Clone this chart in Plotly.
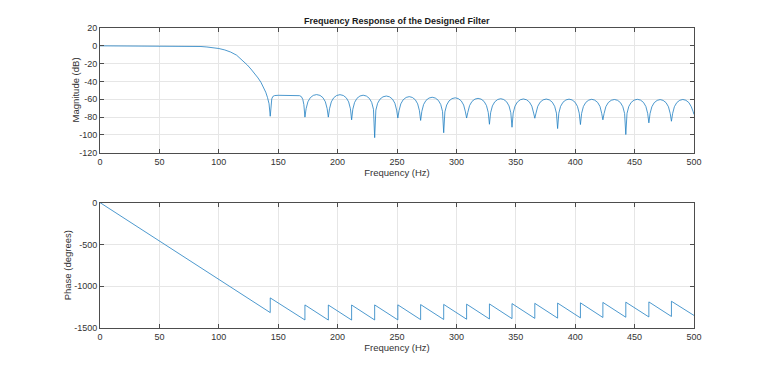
import plotly.graph_objects as go

# ---------------- data ----------------
mag_freq = [0, 10, 20, 30, 40, 50, 60, 70, 75, 80, 85, 90, 95, 100, 105, 110, 115, 118, 121, 124, 127, 130,
            133, 135.5, 137.5, 139.5, 141, 142.3, 143.3,
            144.0, 144.6, 145.5, 147, 150, 155, 160, 165, 168, 169.5, 170.7, 171.6, 172.5,
            173.5, 175, 177, 179.5, 182.3, 185.2, 187.7, 189.7, 191.2, 192.2,
            193.2, 194.7, 196.7, 199.2, 202, 204.8, 207.3, 209.3, 210.8, 211.8,
            212.8, 214.3, 216.3, 218.8, 221.5, 224.2, 226.7, 228.7, 230.2, 231.2,
            232.2, 233.7, 235.7, 238.2, 241, 243.7, 246.2, 248.2, 249.7, 250.7,
            251.7, 253.2, 255.2, 257.7, 260.3, 262.9, 265.4, 267.4, 268.9, 269.9,
            270.9, 272.4, 274.4, 276.9, 279.6, 282.3, 284.8, 286.8, 288.3, 289.3,
            290.3, 291.8, 293.8, 296.3, 299, 301.6, 304.1, 306.1, 307.6, 308.6,
            309.6, 311.1, 313.1, 315.6, 318.2, 320.8, 323.3, 325.3, 326.8, 327.8,
            328.8, 330.3, 332.3, 334.8, 337.3, 339.8, 342.3, 344.3, 345.8, 346.8,
            347.8, 349.3, 351.3, 353.8, 356.4, 359, 361.5, 363.5, 365, 366,
            367, 368.5, 370.5, 373, 375.6, 378.2, 380.7, 382.7, 384.2, 385.2,
            386.2, 387.7, 389.7, 392.2, 394.8, 397.4, 399.9, 401.9, 403.4, 404.4,
            405.4, 406.9, 408.9, 411.4, 413.9, 416.4, 418.9, 420.9, 422.3, 423.3,
            424.3, 425.8, 427.8, 430.3, 433, 435.6, 438.1, 440.1, 441.6, 442.6,
            443.6, 445.1, 447.1, 449.6, 452.3, 455, 457.5, 459.5, 461, 462,
            463, 464.5, 466.5, 469, 471.5, 474, 476.5, 478.5, 480, 481,
            482, 483.5, 485.5, 488, 490.6, 493.2, 495.7, 497.7, 499.2, 500]
mag_db = [0, 0, 0, 0, 0, 0, 0, -0.05, -0.15, -0.35, -0.75, -1.3, -2.0, -3.0, -4.6, -7.0, -10.5, -14, -17.5, -21.5, -26, -30.5,
          -36, -41, -46, -52, -58, -65, -79,
          -64, -59.5, -56.8, -55.8, -55.5, -55.5, -55.6, -55.6, -55.9, -57, -60, -66, -80,
          -70.5, -62.8, -58.2, -55.6, -54.7, -55.6, -58.2, -62.8, -70.5, -80,
          -70.6, -62.9, -58.3, -55.7, -54.8, -55.7, -58.3, -62.9, -70.6, -83,
          -71.2, -63.5, -58.9, -56.3, -55.4, -56.3, -58.9, -63.5, -71.2, -103,
          -72.1, -64.4, -59.8, -57.2, -56.3, -57.2, -59.8, -64.4, -72.1, -81,
          -72.8, -65.1, -60.5, -57.9, -57.0, -57.9, -60.5, -65.1, -72.8, -83.7,
          -73.5, -65.8, -61.2, -58.6, -57.7, -58.6, -61.2, -65.8, -73.5, -97.5,
          -74.1, -66.4, -61.8, -59.2, -58.3, -59.2, -61.8, -66.4, -74.1, -81,
          -74.7, -67.0, -62.4, -59.8, -58.9, -59.8, -62.4, -67.0, -74.7, -88,
          -75.1, -67.4, -62.8, -60.2, -59.3, -60.2, -62.8, -67.4, -75.1, -91.3,
          -75.4, -67.7, -63.1, -60.5, -59.6, -60.5, -63.1, -67.7, -75.4, -81.2,
          -75.5, -67.8, -63.2, -60.6, -59.7, -60.6, -63.2, -67.8, -75.5, -92.8,
          -75.6, -67.9, -63.3, -60.7, -59.8, -60.7, -63.3, -67.9, -75.6, -88.3,
          -75.8, -68.1, -63.5, -60.9, -60.0, -60.9, -63.5, -68.1, -75.8, -83,
          -76.0, -68.3, -63.7, -61.1, -60.2, -61.1, -63.7, -68.3, -76.0, -99.5,
          -75.8, -68.1, -63.5, -60.9, -60.0, -60.9, -63.5, -68.1, -75.8, -86.4,
          -76.1, -68.4, -63.8, -61.2, -60.3, -61.2, -63.8, -68.4, -76.1, -84.6,
          -76.0, -68.3, -63.7, -61.1, -60.2, -61.1, -63.7, -68.3, -73.5, -77]

phase_freq = [0, 143.3, 143.3, 172.5, 172.5, 192.2, 192.2, 211.8, 211.8, 231.2, 231.2, 250.7, 250.7,
              269.9, 269.9, 289.3, 289.3, 308.6, 308.6, 327.8, 327.8, 346.8, 346.8, 366.0, 366.0,
              385.2, 385.2, 404.4, 404.4, 423.3, 423.3, 442.6, 442.6, 462.0, 462.0, 481.0, 481.0, 500]
phase_deg = [0, -1316, -1140, -1404, -1224, -1405, -1225, -1405, -1225, -1404, -1224, -1403, -1223,
             -1400, -1220, -1398, -1218, -1395, -1215, -1392, -1212, -1388, -1208, -1385, -1205,
             -1382, -1202, -1379, -1199, -1374, -1194, -1371, -1191, -1368, -1188, -1362, -1180, -1350]

x_ticks = [0, 50, 100, 150, 200, 250, 300, 350, 400, 450, 500]
mag_ticks = [20, 0, -20, -40, -60, -80, -100, -120]
phase_ticks = [0, -500, -1000, -1500]

title_text = "Frequency Response of the Designed Filter"
x_label = "Frequency (Hz)"
mag_label = "Magnitude (dB)"
phase_label = "Phase (degrees)"

# ---------------- figure ----------------
FONT = "Liberation Sans, Arial, Helvetica, sans-serif"
LINE = "#1f7fc2"
AX = "#4d4d4d"
GRID = "#e6e6e6"

fig = go.Figure()
fig.add_trace(go.Scatter(x=mag_freq, y=mag_db, mode="lines",
                         line=dict(color=LINE, width=0.8), xaxis="x", yaxis="y", showlegend=False))
fig.add_trace(go.Scatter(x=phase_freq, y=phase_deg, mode="lines",
                         line=dict(color=LINE, width=0.8), xaxis="x2", yaxis="y2", showlegend=False))

common_axis = dict(showline=True, linecolor=AX, linewidth=1, mirror="ticks",
                   ticks="inside", ticklen=4, tickcolor=AX, tickwidth=1,
                   showgrid=True, gridcolor=GRID, gridwidth=1, zeroline=False,
                   automargin=False,
                   tickfont=dict(family=FONT, size=9, color="#333333"))

label_font = dict(family=FONT, size=9.5, color="#333333")

# plain hyphen-minus labels, as in the reference
x_text = [str(v) for v in x_ticks]
mag_text = [str(v) for v in mag_ticks]
phase_text = [str(v) for v in phase_ticks]

# the page body adds an 8 px margin, so the figure is 760x361 and offsets are reduced by 8 px
fig.update_layout(
    width=760, height=361,
    paper_bgcolor="white", plot_bgcolor="white",
    margin=dict(l=92, r=74, t=20, b=41, autoexpand=False),
    font=dict(family=FONT, size=9, color="#333333"),
    xaxis=dict(domain=[0, 1], anchor="y", range=[0, 500], tickvals=x_ticks, ticktext=x_text,
               title=dict(text=x_label, font=label_font, standoff=3), **common_axis),
    yaxis=dict(domain=[0.584, 1], anchor="x", range=[-120, 20], tickvals=mag_ticks, ticktext=mag_text,
               **common_axis),
    xaxis2=dict(domain=[0, 1], anchor="y2", range=[0, 500], tickvals=x_ticks, ticktext=x_text,
                title=dict(text=x_label, font=label_font, standoff=3), **common_axis),
    yaxis2=dict(domain=[0, 0.418], anchor="x2", range=[-1500, 0], tickvals=phase_ticks, ticktext=phase_text,
                **common_axis),
    annotations=[
        dict(text="<b>" + title_text + "</b>", xref="paper", yref="paper",
             x=0.5, y=1, xanchor="center", yanchor="bottom", yshift=0,
             showarrow=False, font=dict(family=FONT, size=9, color="#1a1a1a")),
        dict(text=mag_label, xref="paper", yref="y domain", x=0, y=0.5,
             xanchor="center", yanchor="middle", xshift=-25, textangle=-90,
             showarrow=False, font=label_font),
        dict(text=phase_label, xref="paper", yref="y2 domain", x=0, y=0.5,
             xanchor="center", yanchor="middle", xshift=-33, textangle=-90,
             showarrow=False, font=label_font),
    ],
)

fig.write_html("out.html")
